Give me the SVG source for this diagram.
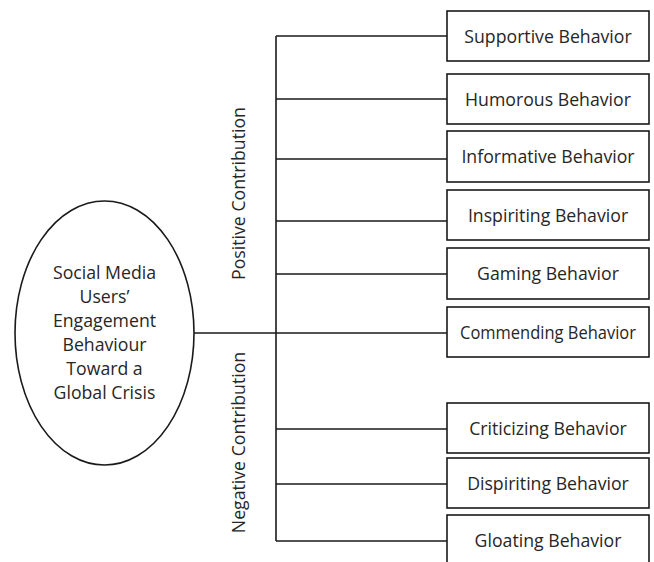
<svg xmlns="http://www.w3.org/2000/svg" width="654" height="562" viewBox="0 0 654 562">
<style>
.box{fill:#fff;stroke:#1a1a1a;stroke-width:1.6}
.ln{fill:none;stroke:#1a1a1a;stroke-width:1.6}
.t{font-family:"Open Sans","Liberation Sans",sans-serif;font-size:17.7px;fill:#262626;text-anchor:middle}
</style>
<rect width="654" height="562" fill="#fff"/>
<g id="connectors">
<path class="ln" d="M276 36V541"/>
<path class="ln" d="M194 333H447"/>
<path class="ln" d="M276 36H447M276 99H447M276 159H447M276 221H447M276 274H447M276 429H447M276 484H447M276 541H447"/>
</g>
<g id="center">
<ellipse class="box" cx="104.5" cy="333" rx="89.5" ry="132"/>
<text class="t" x="104.5" y="279">Social Media</text>
<text class="t" x="104.5" y="303">Users’</text>
<text class="t" x="104.5" y="327">Engagement</text>
<text class="t" x="104.5" y="351">Behaviour</text>
<text class="t" x="104.5" y="375">Toward a</text>
<text class="t" x="104.5" y="399">Global Crisis</text>
</g>
<g id="label-positive"><text class="t" transform="translate(245 193.5) rotate(-90)">Positive Contribution</text></g>
<g id="label-negative"><text class="t" transform="translate(245 442.5) rotate(-90)">Negative Contribution</text></g>
<g id="n1"><rect class="box" x="447" y="11" width="202" height="50"/><text class="t" x="548" y="42.5">Supportive Behavior</text></g>
<g id="n2"><rect class="box" x="447" y="74" width="202" height="50"/><text class="t" x="548" y="105.5">Humorous Behavior</text></g>
<g id="n3"><rect class="box" x="447" y="131" width="202" height="51"/><text class="t" x="548" y="163">Informative Behavior</text></g>
<g id="n4"><rect class="box" x="447" y="190" width="202" height="50"/><text class="t" x="548" y="221.5">Inspiriting Behavior</text></g>
<g id="n5"><rect class="box" x="447" y="248" width="202" height="51"/><text class="t" x="548" y="280">Gaming Behavior</text></g>
<g id="n6"><rect class="box" x="447" y="307" width="202" height="50"/><text class="t" x="548" y="338.5" textLength="176" lengthAdjust="spacingAndGlyphs">Commending Behavior</text></g>
<g id="n7"><rect class="box" x="447" y="403" width="202" height="50"/><text class="t" x="548" y="434.5">Criticizing Behavior</text></g>
<g id="n8"><rect class="box" x="447" y="458" width="202" height="50"/><text class="t" x="548" y="489.5">Dispiriting Behavior</text></g>
<g id="n9"><rect class="box" x="447" y="515" width="202" height="60"/><text class="t" x="548" y="547">Gloating Behavior</text></g>
</svg>
